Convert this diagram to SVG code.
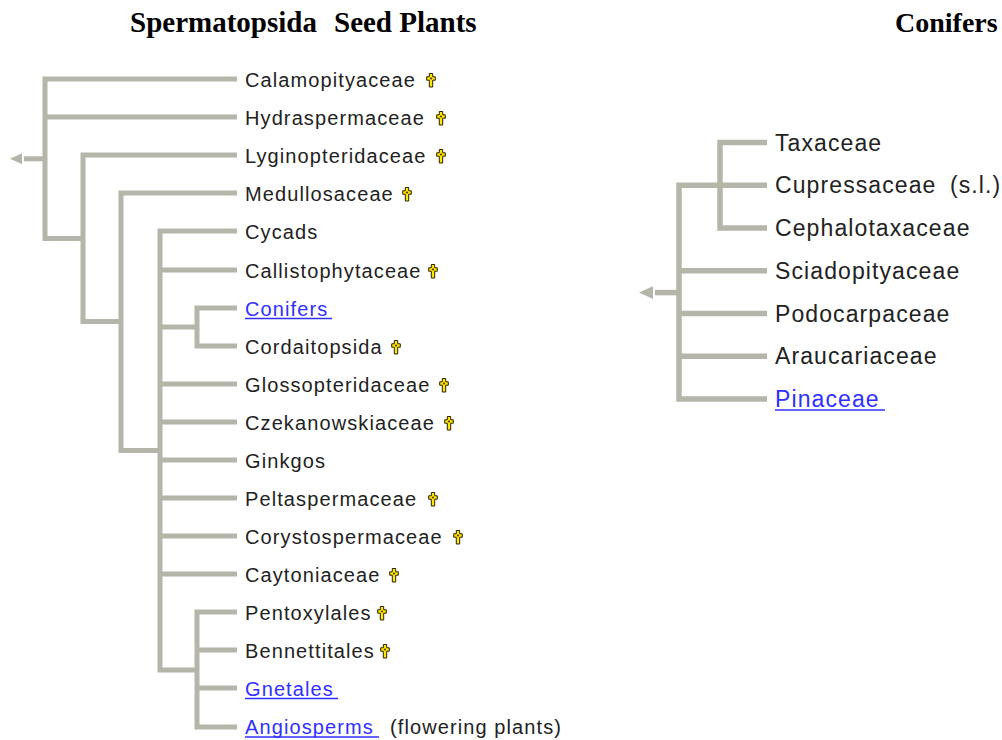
<svg xmlns="http://www.w3.org/2000/svg" width="1002" height="740" viewBox="0 0 1002 740">
<style>
.title{font-family:"Liberation Serif","Times New Roman",serif;font-weight:bold;font-size:28px;fill:#000}
.lt{font-family:"Liberation Sans",Arial,sans-serif;font-size:20px;letter-spacing:1.1px;fill:#222}
.rt{font-family:"Liberation Sans",Arial,sans-serif;font-size:23px;letter-spacing:1.1px;fill:#222}
.link{fill:#3030ff}
.br{fill:none;stroke:#b5b5aa;stroke-width:5;stroke-linejoin:miter}
.brr{fill:none;stroke:#b5b5aa;stroke-width:5.5;stroke-linejoin:miter}
.ul{stroke:#3030ff;stroke-width:1.5}
.arr{fill:#b5b5aa}
</style>
<defs>
<g id="dagger">
<polygon points="-1.7,-6.5 1.7,-6.5 1.7,-3.2 4.3,-3.2 4.3,0.2 1.7,0.2 1.7,7 -1.7,7 -1.7,0.2 -4.3,0.2 -4.3,-3.2 -1.7,-3.2" fill="#ffe600" stroke="#2a2000" stroke-width="1"/>
<circle cx="0" cy="-1.5" r="1.1" fill="#5a3a00"/>
</g>
</defs>
<text class="title" x="130" y="32" style="font-size:29px">Spermatopsida<tspan x="334">Seed Plants</tspan></text>
<text class="title" x="895" y="32">Conifers</text>

<g id="connectors">
<!-- left tree -->
<polygon class="arr" points="10,158.8 22,153.3 22,164.3"/>
<path class="br" d="M24,158.8 H45"/>
<path class="br" d="M237,79 H45 V238.5 H83"/>
<path class="br" d="M45,117 H237"/>
<path class="br" d="M237,155 H83 V321.5 H121"/>
<path class="br" d="M237,193 H121 V450.5 H160"/>
<path class="br" d="M237,231 H160 V670 H197"/>
<path class="br" d="M160,270 H237 M160,384 H237 M160,422 H237 M160,460 H237 M160,498 H237 M160,536 H237 M160,574 H237"/>
<path class="br" d="M160,327 H197"/>
<path class="br" d="M237,308 H197 V346 H237"/>
<path class="br" d="M237,612 H197 V727 H237"/>
<path class="br" d="M197,650 H237 M197,688 H237"/>
<!-- right tree -->
<polygon class="arr" points="639,292.6 653,286.3 653,298.9"/>
<path class="brr" d="M655,292.6 H679"/>
<path class="brr" d="M767,142.5 H720 V228 H767"/>
<path class="brr" d="M767,185.2 H679 V399 H767"/>
<path class="brr" d="M679,270.8 H767 M679,313.5 H767 M679,356.2 H767"/>
</g>

<g id="n-calamopityaceae"><text class="lt" x="245" y="86.5">Calamopityaceae</text><use href="#dagger" x="431" y="80"/></g>
<g id="n-hydraspermaceae"><text class="lt" x="245" y="124.5">Hydraspermaceae</text><use href="#dagger" x="441" y="118"/></g>
<g id="n-lyginopteridaceae"><text class="lt" x="245" y="162.5">Lyginopteridaceae</text><use href="#dagger" x="441" y="156"/></g>
<g id="n-medullosaceae"><text class="lt" x="245" y="200.5">Medullosaceae</text><use href="#dagger" x="407" y="194"/></g>
<g id="n-cycads"><text class="lt" x="245" y="238.5">Cycads</text></g>
<g id="n-callistophytaceae"><text class="lt" x="245" y="277.5">Callistophytaceae</text><use href="#dagger" x="433" y="271"/></g>
<g id="n-conifers"><text class="lt link" x="245" y="315.5">Conifers</text><line class="ul" x1="245" y1="318.5" x2="332" y2="318.5"/></g>
<g id="n-cordaitopsida"><text class="lt" x="245" y="353.5">Cordaitopsida</text><use href="#dagger" x="396" y="347"/></g>
<g id="n-glossopteridaceae"><text class="lt" x="245" y="391.5">Glossopteridaceae</text><use href="#dagger" x="444" y="385"/></g>
<g id="n-czekanowskiaceae"><text class="lt" x="245" y="429.5">Czekanowskiaceae</text><use href="#dagger" x="449" y="423"/></g>
<g id="n-ginkgos"><text class="lt" x="245" y="467.5">Ginkgos</text></g>
<g id="n-peltaspermaceae"><text class="lt" x="245" y="505.5">Peltaspermaceae</text><use href="#dagger" x="433" y="499"/></g>
<g id="n-corystospermaceae"><text class="lt" x="245" y="543.5">Corystospermaceae</text><use href="#dagger" x="458" y="537"/></g>
<g id="n-caytoniaceae"><text class="lt" x="245" y="581.5">Caytoniaceae</text><use href="#dagger" x="394" y="575"/></g>
<g id="n-pentoxylales"><text class="lt" x="245" y="619.5">Pentoxylales</text><use href="#dagger" x="382" y="613"/></g>
<g id="n-bennettitales"><text class="lt" x="245" y="657.5">Bennettitales</text><use href="#dagger" x="385" y="651"/></g>
<g id="n-gnetales"><text class="lt link" x="245" y="695.5">Gnetales</text><line class="ul" x1="245" y1="698.5" x2="338" y2="698.5"/></g>
<g id="n-angiosperms"><text class="lt link" x="245" y="734">Angiosperms</text><line class="ul" x1="245" y1="737" x2="379" y2="737"/><text class="lt" x="390" y="734">(flowering plants)</text></g>

<g id="n-taxaceae"><text class="rt" x="775" y="150.5">Taxaceae</text></g>
<g id="n-cupressaceae"><text class="rt" x="775" y="193.2">Cupressaceae</text><text class="rt" x="950" y="193.2">(s.l.)</text></g>
<g id="n-cephalotaxaceae"><text class="rt" x="775" y="236">Cephalotaxaceae</text></g>
<g id="n-sciadopityaceae"><text class="rt" x="775" y="278.8">Sciadopityaceae</text></g>
<g id="n-podocarpaceae"><text class="rt" x="775" y="321.5">Podocarpaceae</text></g>
<g id="n-araucariaceae"><text class="rt" x="775" y="364.2">Araucariaceae</text></g>
<g id="n-pinaceae"><text class="rt link" x="775" y="407">Pinaceae</text><line class="ul" x1="775" y1="410" x2="885" y2="410"/></g>
</svg>
